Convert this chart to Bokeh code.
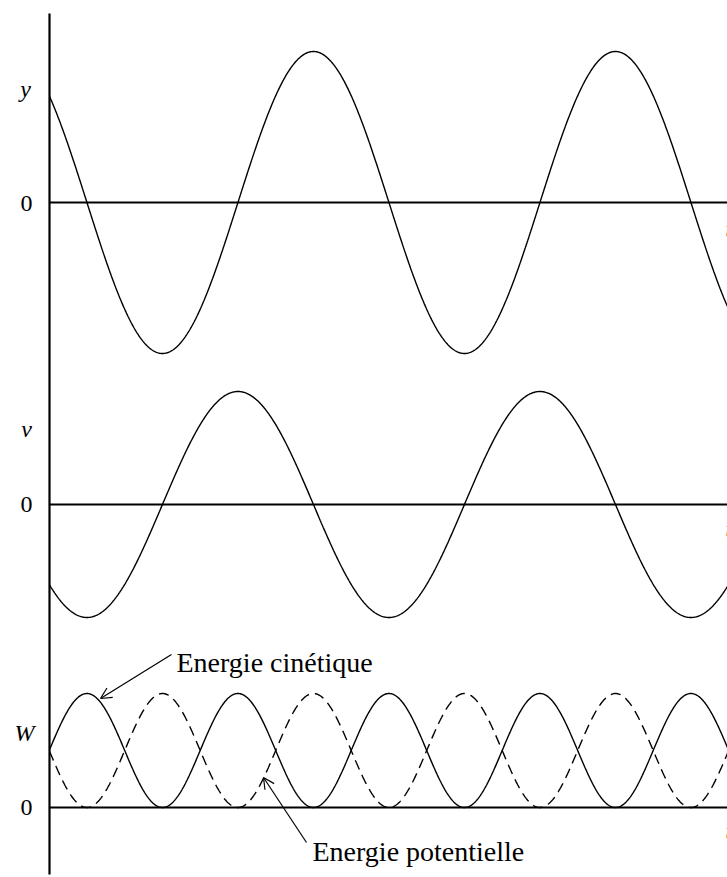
import numpy as np
from bokeh.plotting import figure
from bokeh.models import Range1d, Arrow, OpenHead
from bokeh.core.properties import value
from bokeh.embed import file_html
from bokeh.resources import INLINE

# ---- data -------------------------------------------------------------
panel_labels = ["y", "v", "W"]
zero_label = "0"
energy_labels = ["Energie cinétique", "Energie potentielle"]
axis_label_t = "t"

period = 1.0            # one oscillation period (time unit)
t_peak = 0.874          # time of the first displacement maximum (in periods)
t_end = 2.245           # last time shown (in periods)

t = np.linspace(0.0, t_end, 900)
phase = 2 * np.pi * (t - t_peak) / period
y_disp = np.cos(phase)              # displacement  (normalised)
v_speed = -np.sin(phase)            # velocity      (normalised)
w_kin = v_speed ** 2                # kinetic energy
w_pot = y_disp ** 2                 # potential energy

# ---- figure -----------------------------------------------------------
W, H = 727, 877
PX0, PY0 = 0, 0           # page offset of figure
AX = 49                   # page x of the time origin
PPP = 302.0               # pixels per period

p = figure(width=W, height=H, output_backend="svg", toolbar_location=None,
           x_axis_type=None, y_axis_type=None,
           x_range=Range1d((PX0 - AX) / PPP, (PX0 + W - AX) / PPP),
           y_range=Range1d(PY0 + H, PY0), min_border=0)
p.grid.visible = False
p.outline_line_color = None
p.background_fill_color = "white"
p.border_fill_color = "white"

p.extra_x_ranges = {"px": Range1d(PX0, PX0 + W)}

def panel_range(zero_px, amp_px):
    return Range1d(-(PY0 + H - zero_px) / amp_px, (zero_px - PY0) / amp_px)

p.extra_y_ranges = {
    "ry": panel_range(202, 151),
    "rv": panel_range(504, 113),
    "rw": panel_range(807, 114),
}

# zero lines
for rn in ["ry", "rv", "rw"]:
    p.line([0, t_end + 0.1], [0, 0], y_range_name=rn, line_color="black", line_width=2.2)

# vertical axis
p.line([0, 0], [13, 874], line_color="black", line_width=2.2)

# curves
p.line(t, y_disp, y_range_name="ry", line_color="black", line_width=1.4)
p.line(t, v_speed, y_range_name="rv", line_color="black", line_width=1.4)
p.line(t, w_kin, y_range_name="rw", line_color="black", line_width=1.4)
p.line(t, w_pot, y_range_name="rw", line_color="black", line_width=1.4,
       line_dash="10 6")

serif = value("Liberation Serif")

# left labels
p.text(x=[25, 26, 24], y=[88, 428, 732], text=panel_labels,
       x_range_name="px", text_font=serif, text_font_style="italic",
       text_font_size="24px", text_align="center", text_baseline="middle",
       text_color="black")
p.text(x=[26, 26, 26], y=[203, 504, 807], text=[zero_label] * 3,
       x_range_name="px", text_font=serif,
       text_font_size="24px", text_align="center", text_baseline="middle",
       text_color="black")

# clipped 't' labels at the right edge
p.text(x=[725, 725, 725], y=[228, 528, 830], text=[axis_label_t] * 3,
       x_range_name="px", text_font=serif, text_font_style="italic",
       text_font_size="24px", text_align="left", text_baseline="middle",
       text_color="black")

# energy annotations
p.text(x=[176, 312], y=[662, 851], text=energy_labels,
       x_range_name="px", text_font=serif,
       text_font_size="28px", text_align="left", text_baseline="alphabetic",
       text_color="black")

p.add_layout(Arrow(end=OpenHead(size=11, line_width=1.2, line_color="black"),
                   x_start=171, y_start=654, x_end=100, y_end=698,
                   x_range_name="px", line_width=1.2, line_color="black"))
p.add_layout(Arrow(end=OpenHead(size=11, line_width=1.2, line_color="black"),
                   x_start=306, y_start=842, x_end=263, y_end=777,
                   x_range_name="px", line_width=1.2, line_color="black"))

open("out.html", "w").write(file_html(p, INLINE))
